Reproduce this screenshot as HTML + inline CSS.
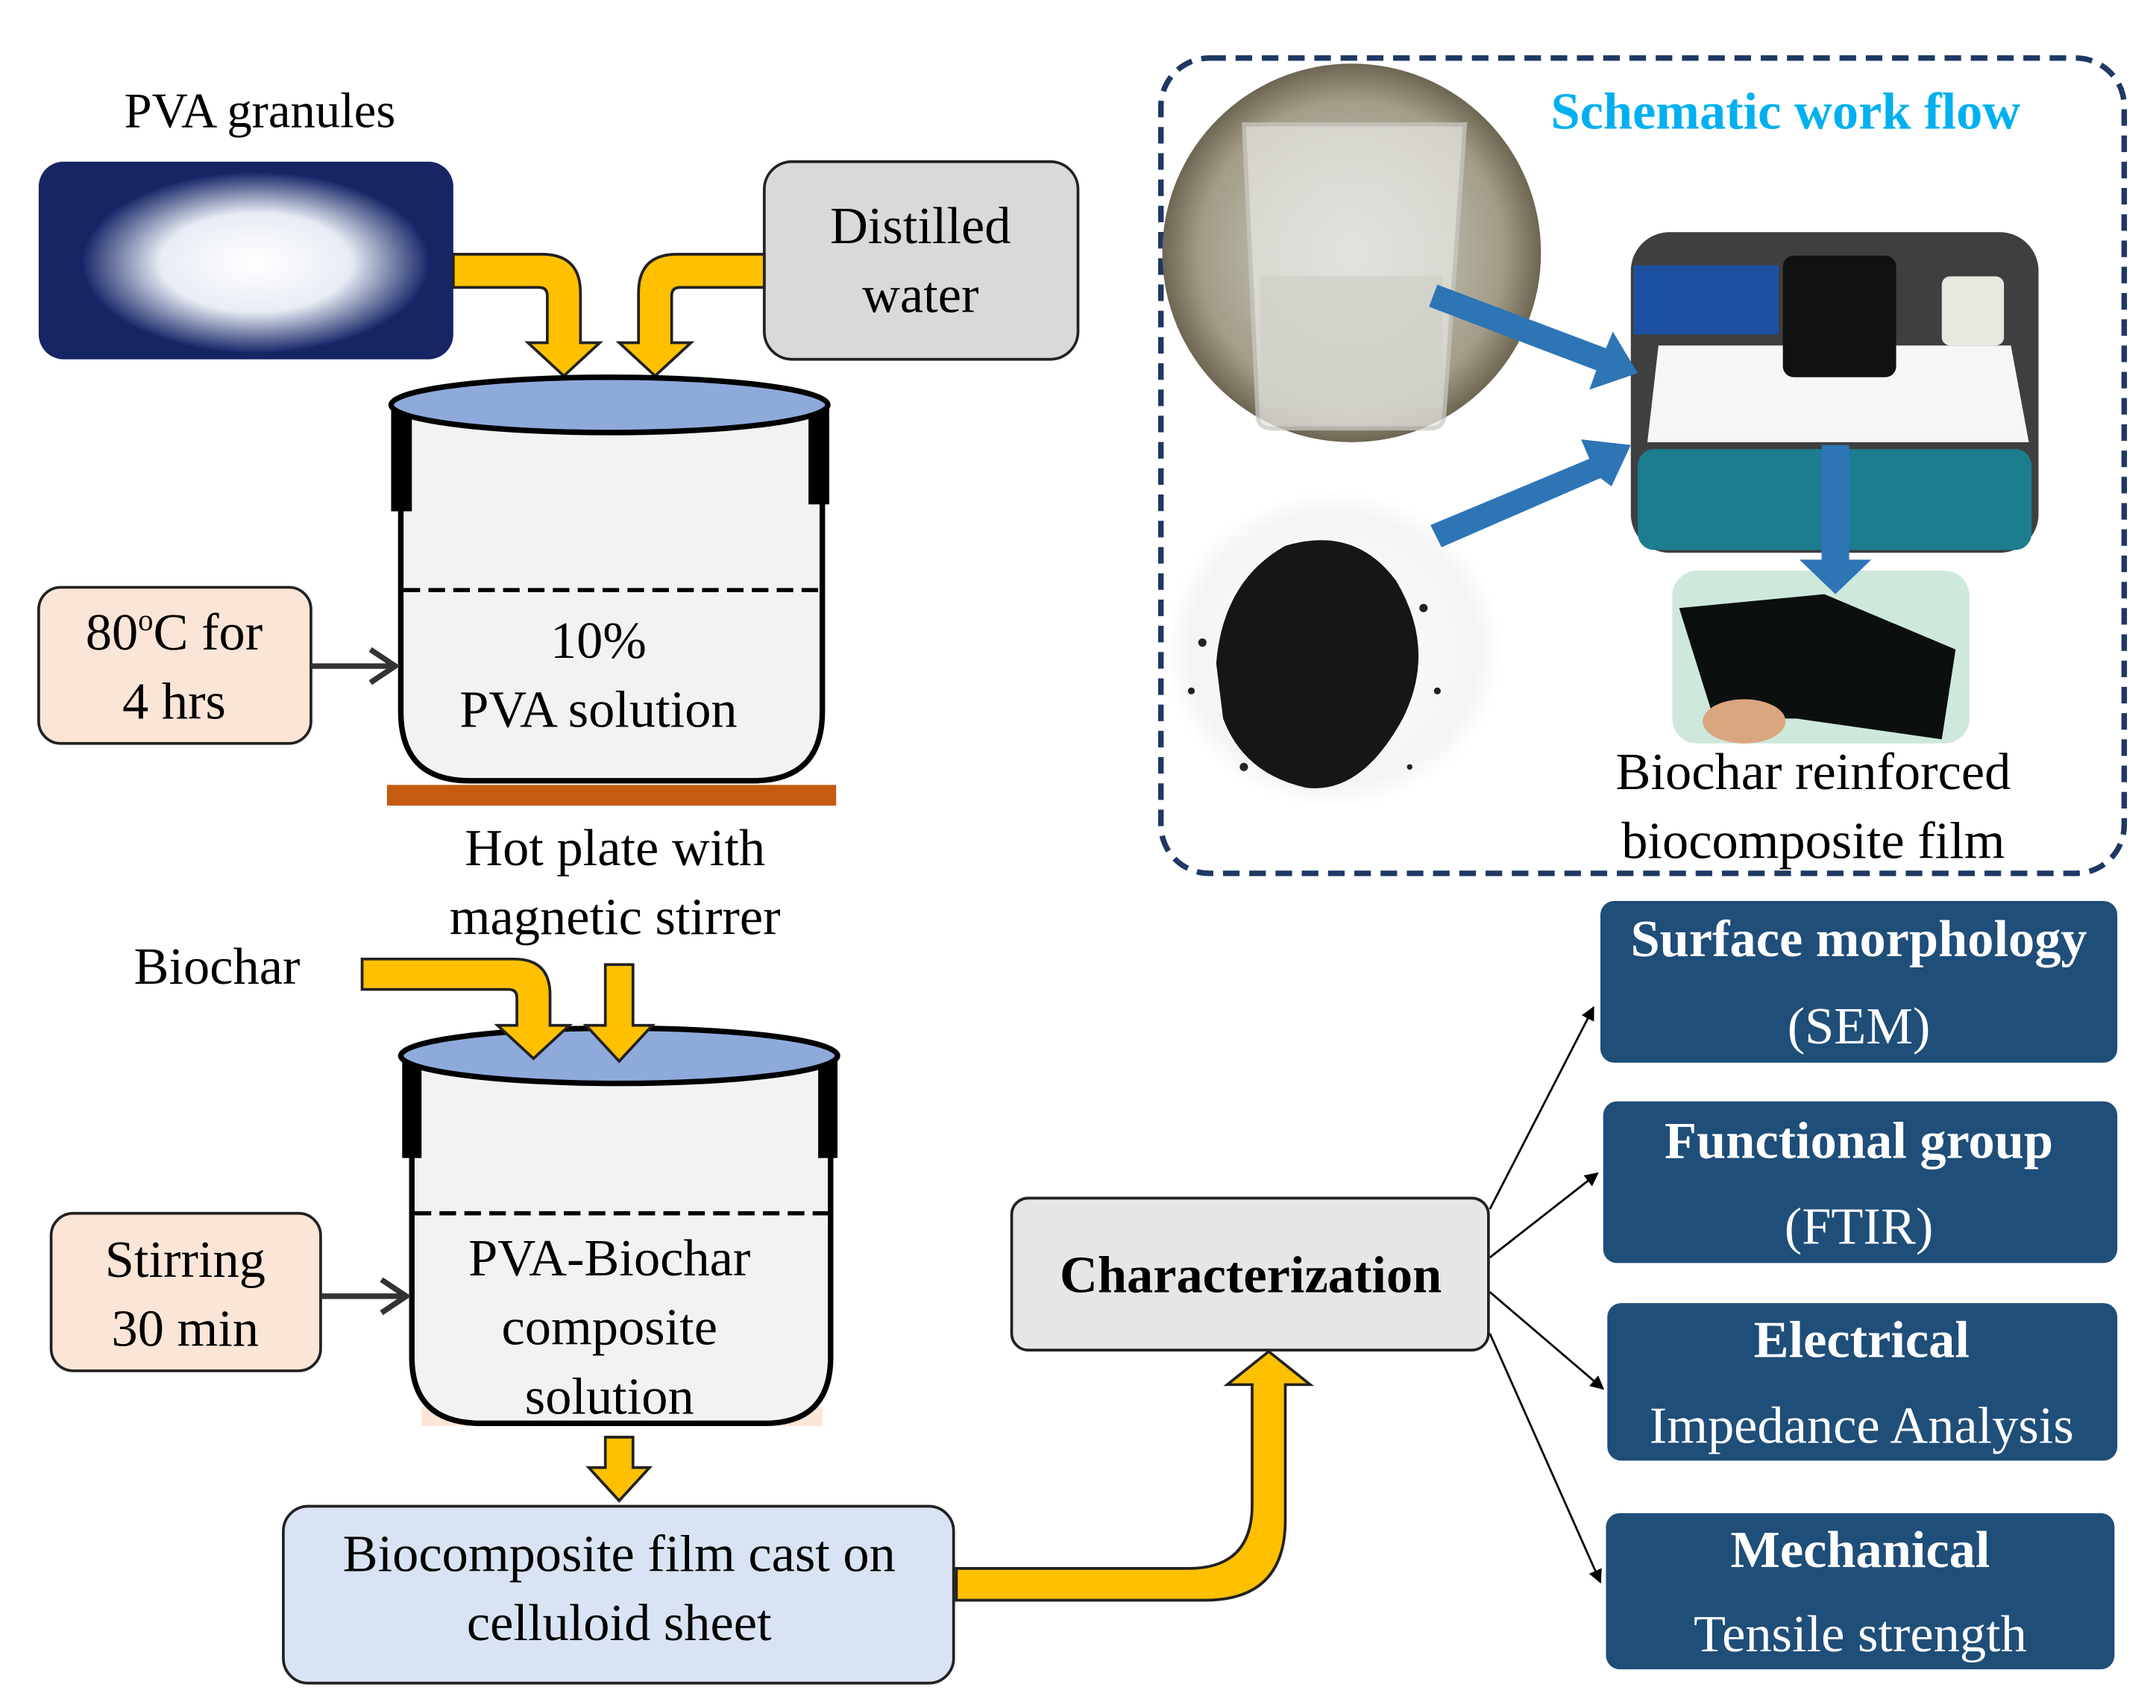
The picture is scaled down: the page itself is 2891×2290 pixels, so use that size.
<!DOCTYPE html>
<html><head><meta charset="utf-8">
<style>
html,body{margin:0;padding:0;background:#fff;}
svg{display:block;}
text{font-family:"Liberation Serif",serif;}
</style></head>
<body>
<svg width="2891" height="2290" viewBox="0 0 1560 1236" preserveAspectRatio="none" xmlns="http://www.w3.org/2000/svg">
<defs>
<marker id="ah" markerWidth="10" markerHeight="10" refX="9" refY="5" orient="auto" markerUnits="userSpaceOnUse">
<path d="M0,0 L10,5 L0,10 z" fill="#000"/></marker>
<radialGradient id="gran" cx="0.5" cy="0.5" r="0.5"><stop offset="0" stop-color="#fff"/><stop offset="0.55" stop-color="#e8ecf4"/><stop offset="1" stop-color="#1a2a6a"/></radialGradient>
<radialGradient id="bea" cx="0.5" cy="0.5" r="0.5"><stop offset="0" stop-color="#d8d8d0"/><stop offset="0.8" stop-color="#a29c88"/><stop offset="1" stop-color="#6d6652"/></radialGradient>
<radialGradient id="bw" cx="0.5" cy="0.5" r="0.5"><stop offset="0" stop-color="#fff"/><stop offset="0.85" stop-color="#f4f4f4"/><stop offset="1" stop-color="#fff"/></radialGradient>
</defs>

<!-- PVA granules -->
<text x="188" y="92" font-size="36" text-anchor="middle">PVA granules</text>
<rect x="28" y="117" width="300" height="143" rx="18" fill="#172565"/>
<ellipse cx="185" cy="190" rx="125" ry="65" fill="url(#gran)"/>

<!-- Distilled water -->
<rect x="553" y="117" width="227" height="143" rx="20" fill="#d9d9d9" stroke="#222" stroke-width="2"/>
<text x="666" y="176" font-size="38" text-anchor="middle">Distilled</text>
<text x="666" y="226" font-size="38" text-anchor="middle">water</text>

<!-- yellow arrows top -->
<path d="M328,184 L392,184 Q420,184 420,212 L420,248 L434,248 L408,272 L382,248 L396,248 L396,214 Q396,208 390,208 L328,208 z" fill="#ffc000" stroke="#222" stroke-width="2"/>
<path d="M553,184 L490,184 Q462,184 462,212 L462,248 L448,248 L474,272 L500,248 L486,248 L486,214 Q486,208 492,208 L553,208 z" fill="#ffc000" stroke="#222" stroke-width="2"/>

<!-- Pot 1 -->
<path d="M290,295 L290,515 Q290,565 340,565 L545,565 Q595,565 595,515 L595,295" fill="#f2f2f2" stroke="#000" stroke-width="4"/>
<rect x="283" y="295" width="15" height="75" fill="#000"/>
<rect x="585" y="295" width="15" height="70" fill="#000"/>
<ellipse cx="441" cy="293" rx="158" ry="20" fill="#8eaadb" stroke="#000" stroke-width="4"/>
<line x1="292" y1="427" x2="593" y2="427" stroke="#000" stroke-width="3" stroke-dasharray="12,6"/>
<text x="433" y="476" font-size="38" text-anchor="middle">10%</text>
<text x="433" y="526" font-size="38" text-anchor="middle">PVA solution</text>
<rect x="280" y="568" width="325" height="15" fill="#c55a11"/>
<text x="445" y="626" font-size="38" text-anchor="middle">Hot plate with</text>
<text x="445" y="676" font-size="38" text-anchor="middle">magnetic stirrer</text>

<!-- 80C box -->
<rect x="28" y="425" width="197" height="113" rx="16" fill="#fbe5d6" stroke="#222" stroke-width="2"/>
<text x="126" y="470" font-size="38" text-anchor="middle">80<tspan font-size="22" dy="-14">o</tspan><tspan dy="14">C for</tspan></text>
<text x="126" y="520" font-size="38" text-anchor="middle">4 hrs</text>
<line x1="225" y1="482" x2="284" y2="482" stroke="#333" stroke-width="4"/>
<path d="M268,470 L286,482 L268,494" fill="none" stroke="#333" stroke-width="4"/>

<!-- Pot 2 -->
<rect x="305" y="1018" width="290" height="14" fill="#fbe5d6"/>
<path d="M298,765 L298,982 Q298,1030 348,1030 L553,1030 Q601,1030 601,982 L601,765" fill="#f2f2f2" stroke="#000" stroke-width="4"/>
<rect x="291" y="765" width="14" height="73" fill="#000"/>
<rect x="592" y="765" width="14" height="73" fill="#000"/>
<ellipse cx="448" cy="764" rx="158" ry="20" fill="#8eaadb" stroke="#000" stroke-width="4"/>
<line x1="300" y1="878" x2="599" y2="878" stroke="#000" stroke-width="3" stroke-dasharray="12,6"/>
<text x="441" y="923" font-size="38" text-anchor="middle">PVA-Biochar</text>
<text x="441" y="973" font-size="38" text-anchor="middle">composite</text>
<text x="441" y="1023" font-size="38" text-anchor="middle">solution</text>

<!-- Biochar -->
<text x="157" y="712" font-size="38" text-anchor="middle">Biochar</text>
<path d="M262,694 L372,694 Q398,694 398,720 L398,742 L412,742 L386,766 L360,742 L374,742 L374,722 Q374,716 368,716 L262,716 z" fill="#ffc000" stroke="#222" stroke-width="2"/>
<path d="M438,698 L458,698 L458,742 L472,742 L448,768 L424,742 L438,742 z" fill="#ffc000" stroke="#222" stroke-width="2"/>

<!-- Stirring -->
<rect x="37" y="878" width="195" height="114" rx="16" fill="#fbe5d6" stroke="#222" stroke-width="2"/>
<text x="134" y="924" font-size="38" text-anchor="middle">Stirring</text>
<text x="134" y="974" font-size="38" text-anchor="middle">30 min</text>
<line x1="232" y1="938" x2="292" y2="938" stroke="#333" stroke-width="4"/>
<path d="M276,926 L294,938 L276,950" fill="none" stroke="#333" stroke-width="4"/>

<!-- down arrow -->
<path d="M438,1040 L458,1040 L458,1062 L470,1062 L448,1086 L426,1062 L438,1062 z" fill="#ffc000" stroke="#222" stroke-width="2"/>

<!-- Biocomposite box -->
<rect x="205" y="1090" width="485" height="128" rx="18" fill="#dae3f3" stroke="#222" stroke-width="2"/>
<text x="448" y="1137" font-size="38" text-anchor="middle">Biocomposite film cast on</text>
<text x="448" y="1187" font-size="38" text-anchor="middle">celluloid sheet</text>

<!-- big curved yellow arrow -->
<path d="M692,1135 L860,1135 Q906,1135 906,1089 L906,1002 L888,1002 L918,978 L948,1002 L930,1002 L930,1100 Q930,1158 872,1158 L692,1158 z" fill="#ffc000" stroke="#222" stroke-width="2"/>

<!-- Characterization -->
<rect x="732" y="867" width="345" height="110" rx="12" fill="#e7e6e6" stroke="#222" stroke-width="2"/>
<text x="905" y="935" font-size="38" font-weight="bold" text-anchor="middle">Characterization</text>

<!-- thin arrows -->
<line x1="1078" y1="875" x2="1153" y2="729" stroke="#000" stroke-width="1.5" marker-end="url(#ah)"/>
<line x1="1078" y1="910" x2="1156" y2="849" stroke="#000" stroke-width="1.5" marker-end="url(#ah)"/>
<line x1="1078" y1="935" x2="1160" y2="1005" stroke="#000" stroke-width="1.5" marker-end="url(#ah)"/>
<line x1="1078" y1="965" x2="1158" y2="1145" stroke="#000" stroke-width="1.5" marker-end="url(#ah)"/>

<!-- Right boxes -->
<g fill="#1f4e79">
<rect x="1158" y="652" width="374" height="117" rx="10"/>
<rect x="1160" y="797" width="372" height="117" rx="10"/>
<rect x="1163" y="943" width="369" height="114" rx="10"/>
<rect x="1162" y="1095" width="368" height="113" rx="10"/>
</g>
<g fill="#fff" text-anchor="middle" font-size="38">
<text x="1345" y="692" font-weight="bold">Surface morphology</text>
<text x="1345" y="755">(SEM)</text>
<text x="1345" y="838" font-weight="bold">Functional group</text>
<text x="1345" y="900">(FTIR)</text>
<text x="1347" y="982" font-weight="bold">Electrical</text>
<text x="1347" y="1044">Impedance Analysis</text>
<text x="1346" y="1134" font-weight="bold">Mechanical</text>
<text x="1346" y="1195">Tensile strength</text>
</g>

<!-- Schematic box -->
<rect x="840" y="42" width="697" height="590" rx="35" fill="none" stroke="#1f3864" stroke-width="4" stroke-dasharray="12,7"/>
<text x="1292" y="93" font-size="38" font-weight="bold" fill="#00b0f0" text-anchor="middle">Schematic work flow</text>

<!-- beaker photo -->
<ellipse cx="978" cy="183" rx="137" ry="137" fill="url(#bea)"/>
<path d="M900,90 L1060,90 L1045,300 Q1045,310 1035,310 L920,310 Q910,310 910,300 Z" fill="#e6e6e2" opacity="0.75" stroke="#c8c8c4" stroke-width="3"/>
<rect x="912" y="200" width="132" height="95" fill="#cfd0c8" opacity="0.7"/>
<!-- biochar photo -->
<ellipse cx="965" cy="470" rx="122" ry="115" fill="url(#bw)"/>
<path d="M880,480 Q885,420 930,395 Q980,380 1010,420 Q1040,470 1015,520 Q985,575 945,570 Q900,560 885,520 Z" fill="#161616"/>
<g fill="#222">
<circle cx="870" cy="465" r="3"/><circle cx="862" cy="500" r="2.5"/><circle cx="1030" cy="440" r="3"/><circle cx="1040" cy="500" r="2.5"/><circle cx="900" cy="555" r="3"/><circle cx="1020" cy="555" r="2"/>
</g>
<!-- hot plate photo -->
<rect x="1180" y="168" width="295" height="232" rx="28" fill="#3f3f3f"/>
<rect x="1182" y="192" width="105" height="50" fill="#1d4fa0"/>
<path d="M1200,250 L1455,250 L1468,320 L1192,320 Z" fill="#f6f6f6"/>
<rect x="1185" y="325" width="285" height="73" rx="12" fill="#1c7d8e"/>
<rect x="1290" y="185" width="82" height="88" rx="8" fill="#111"/>
<rect x="1405" y="200" width="45" height="50" rx="6" fill="#e8e8e0"/>
<!-- film photo -->
<rect x="1210" y="413" width="215" height="125" rx="18" fill="#cfe8dc"/>
<path d="M1215,440 L1320,430 L1415,470 L1405,535 L1300,520 L1240,520 Z" fill="#0b0f0d"/>
<ellipse cx="1262" cy="522" rx="30" ry="16" fill="#d9a77f"/>
<!-- blue arrows -->
<g fill="#2e75b6">
<path d="M1040,206 L1162,252 L1167,240 L1185,270 L1150,282 L1155,268 L1034,222 z"/>
<path d="M1035,380 L1150,332 L1144,318 L1180,322 L1166,352 L1158,346 L1043,396 z"/>
<path d="M1318,322 L1338,322 L1338,405 L1354,405 L1328,430 L1302,405 L1318,405 z"/>
</g>
<text x="1312" y="571" font-size="38" text-anchor="middle">Biochar reinforced</text>
<text x="1312" y="621" font-size="38" text-anchor="middle">biocomposite film</text>
</svg>
</body></html>
